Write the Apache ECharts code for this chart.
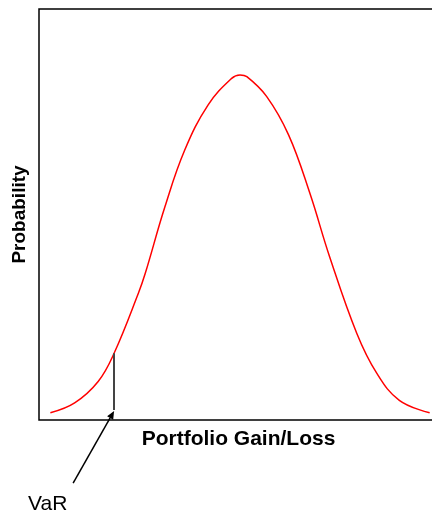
<!DOCTYPE html>
<html>
<head>
<meta charset="utf-8">
<script src="https://cdn.jsdelivr.net/npm/echarts@6/dist/echarts.min.js"></script>
<style>
html, body { margin: 0; padding: 0; background: #fff; overflow: hidden; width: 432px; height: 514px; }
#chart { width: 444px; height: 514px; }
</style>
</head>
<body>
<div id="chart"></div>
<script>
// gain/loss (in std devs) and probability density
const gainLoss = [-2.5, -2.18, -1.87, -1.66, -1.34, -1.25, -0.99, -0.73, -0.42, -0.11,
                  0, 0.09, 0.35, 0.64, 0.92, 1.18, 1.54, 1.8, 2.1, 2.5];
const probability = [0.0085, 0.020, 0.045, 0.078, 0.148, 0.171, 0.249, 0.315, 0.368, 0.399,
                     0.403, 0.401, 0.378, 0.333, 0.265, 0.191, 0.101, 0.055, 0.023, 0.0085];

// VaR cut-off and the annotation arrow (tail -> head) in data units
const varLevel = -1.66;
const varLine = [[varLevel, 0.0117], [varLevel, 0.078]];
const varArrow = [[-2.2, -0.0736, -1.66, 0.0105]];

const chart = echarts.init(document.getElementById('chart'));

chart.setOption({
    animation: false,
    grid: {
        show: true,
        left: 39,
        top: 9,
        right: 6,
        bottom: 94,
        borderColor: '#000',
        borderWidth: 1.5
    },
    xAxis: {
        type: 'value',
        min: -2.65,
        max: 2.61,
        axisLine: { show: false },
        axisTick: { show: false },
        axisLabel: { show: false },
        splitLine: { show: false },
        name: 'Portfolio Gain/Loss',
        nameLocation: 'middle',
        nameGap: 9,
        nameTextStyle: {
            fontFamily: 'Liberation Sans',
            fontWeight: 'bold',
            fontSize: 21,
            color: '#000',
            verticalAlign: 'top'
        }
    },
    yAxis: {
        type: 'value',
        min: 0,
        max: 0.48,
        axisLine: { show: false },
        axisTick: { show: false },
        axisLabel: { show: false },
        splitLine: { show: false },
        name: 'Probability',
        nameLocation: 'middle',
        nameGap: 10,
        nameTextStyle: {
            fontFamily: 'Liberation Sans',
            fontWeight: 'bold',
            fontSize: 19,
            color: '#000'
        }
    },
    series: [
        {
            type: 'line',
            data: gainLoss.map((x, i) => [x, probability[i]]),
            smooth: 0.4,
            showSymbol: false,
            lineStyle: { color: '#ff0000', width: 1.5 },
            markLine: {
                silent: true,
                symbol: 'none',
                label: { show: false },
                lineStyle: { color: '#444', width: 2, type: 'solid' },
                data: [[{ coord: varLine[0] }, { coord: varLine[1] }]]
            }
        },
        {
            type: 'custom',
            clip: false,
            silent: true,
            data: varArrow,
            renderItem: function (params, api) {
                const p0 = api.coord([api.value(0), api.value(1)]);
                const p1 = api.coord([api.value(2), api.value(3)]);
                const dx = p1[0] - p0[0], dy = p1[1] - p0[1];
                const len = Math.sqrt(dx * dx + dy * dy);
                const ux = dx / len, uy = dy / len;
                const hl = 8, hw = 3.5;
                const bx = p1[0] - ux * hl, by = p1[1] - uy * hl;
                return {
                    type: 'group',
                    children: [
                        {
                            type: 'line',
                            shape: { x1: p0[0], y1: p0[1], x2: bx, y2: by },
                            style: { stroke: '#000', lineWidth: 1.5 }
                        },
                        {
                            type: 'polygon',
                            shape: {
                                points: [
                                    [p1[0], p1[1]],
                                    [bx - uy * hw, by + ux * hw],
                                    [bx + uy * hw, by - ux * hw]
                                ]
                            },
                            style: { fill: '#000' }
                        }
                    ]
                };
            }
        }
    ],
    graphic: [
        {
            type: 'text',
            left: 28,
            top: 494,
            style: {
                text: 'VaR',
                fontFamily: 'Liberation Sans',
                fontSize: 21,
                fill: '#000'
            }
        }
    ]
});
</script>
</body>
</html>
